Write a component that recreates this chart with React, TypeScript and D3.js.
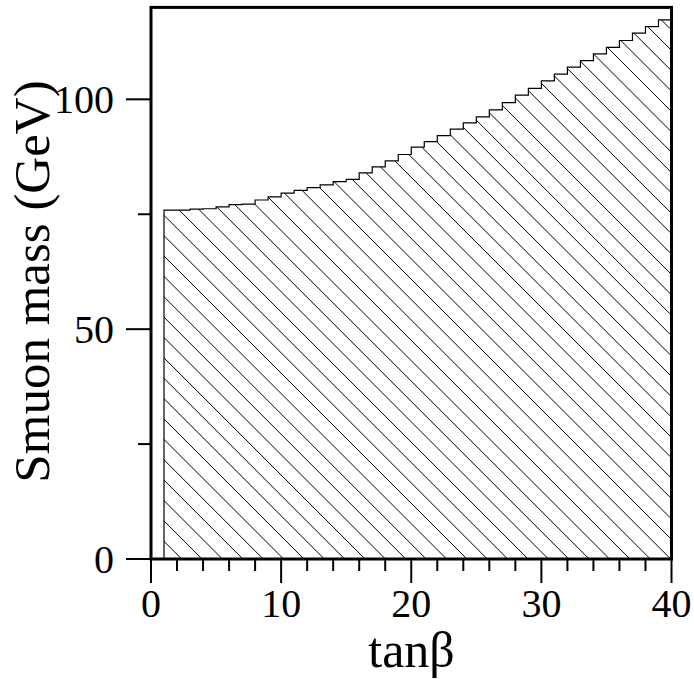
import React from "react";
import * as d3 from "d3";

// tanβ at the start of each step (step covers [k, k+1])
const tanBeta = [
  1, 2, 3, 4, 5, 6, 7, 8, 9, 10, 11, 12, 13, 14, 15, 16, 17, 18, 19, 20,
  21, 22, 23, 24, 25, 26, 27, 28, 29, 30, 31, 32, 33, 34, 35, 36, 37, 38, 39,
];
// excluded smuon mass (GeV) on each step
const smuonMass = [
  75.9, 75.9, 76.1, 76.2, 76.6, 77.1, 77.2, 78.1, 78.8, 79.6, 80.2, 80.8,
  81.4, 82.1, 82.6, 84.0, 85.3, 86.6, 88.0, 89.6, 90.8, 92.1, 93.5, 94.9,
  96.2, 97.7, 99.3, 100.9, 102.4, 104.0, 105.5, 107.0, 108.4, 109.9, 111.3,
  112.8, 114.4, 115.8, 117.3,
];
const xEnd = 40;

const xMajorTicks = [0, 10, 20, 30, 40];
const xMinorTicks = [2, 4, 6, 8, 12, 14, 16, 18, 22, 24, 26, 28, 32, 34, 36, 38];
const yMajorTicks = [0, 50, 100];
const yMinorTicks = [25, 75];

const xLabel = "tanβ";
const yLabel = "Smuon mass (GeV)";

const W = 694;
const H = 679;
const FONT = "'Liberation Serif', 'Times New Roman', Times, serif";

export default function App() {
  const x = d3.scaleLinear().domain([0, 40]).range([151, 671.5]);
  const y = d3.scaleLinear().domain([0, 120]).range([559, 7.4]);

  const pts: [number, number][] = tanBeta.map((t, i) => [t, smuonMass[i]]);
  pts.push([xEnd, smuonMass[smuonMass.length - 1]]);

  const area = d3
    .area<[number, number]>()
    .x((d) => x(d[0]))
    .y0(y(0))
    .y1((d) => y(d[1]))
    .curve(d3.curveStepAfter);

  const line = d3
    .line<[number, number]>()
    .x((d) => x(d[0]))
    .y((d) => y(d[1]))
    .curve(d3.curveStepAfter);

  const edgePath =
    `M${x(tanBeta[0])},${y(0)}L${x(tanBeta[0])},${y(smuonMass[0])}` +
    (line(pts) || "").replace(/^M[^L]*/, "");

  // hatch lines (45°, "\" direction)
  const hatchStart = 181.7;
  const hatchStep = 20.375;
  const hatch: number[] = d3.range(-5, 60).map((k) => hatchStart + k * hatchStep);

  const x0 = x(0), x1 = x(40), yb = y(0), yt = y(120);

  return (
    <svg
      width={W}
      height={H}
      style={{ position: "absolute", left: 0, top: 0, background: "#fff" }}
    >
      <defs>
        <clipPath id="areaClip">
          <path d={area(pts) || ""} />
        </clipPath>
      </defs>
      <rect x={0} y={0} width={W} height={H} fill="#fff" />

      {/* hatching */}
      <g clipPath="url(#areaClip)">
        {hatch.map((hx, i) => (
          <line
            key={i}
            x1={hx}
            y1={yb}
            x2={hx - 700}
            y2={yb - 700}
            stroke="#000"
            strokeWidth={1}
          />
        ))}
      </g>
      <path d={edgePath} fill="none" stroke="#000" strokeWidth={1.2} />

      {/* frame */}
      <rect
        x={x0}
        y={yt}
        width={x1 - x0}
        height={yb - yt}
        fill="none"
        stroke="#000"
        strokeWidth={3}
      />

      {/* x ticks */}
      {xMajorTicks.map((t) => (
        <g key={"xM" + t}>
          <line x1={x(t)} x2={x(t)} y1={yb} y2={yb + 24} stroke="#000" strokeWidth={2} />
          <text
            x={x(t)}
            y={617}
            textAnchor="middle"
            fontFamily={FONT}
            fontSize={40}
          >
            {t}
          </text>
        </g>
      ))}
      {xMinorTicks.map((t) => (
        <line key={"xm" + t} x1={x(t)} x2={x(t)} y1={yb} y2={yb + 12} stroke="#000" strokeWidth={2} />
      ))}

      {/* y ticks */}
      {yMajorTicks.map((t) => (
        <g key={"yM" + t}>
          <line x1={x0} x2={x0 - 25} y1={y(t)} y2={y(t)} stroke="#000" strokeWidth={2} />
          <text
            x={114}
            y={y(t) + 14}
            textAnchor="end"
            fontFamily={FONT}
            fontSize={40}
          >
            {t}
          </text>
        </g>
      ))}
      {yMinorTicks.map((t) => (
        <line key={"ym" + t} x1={x0} x2={x0 - 13} y1={y(t)} y2={y(t)} stroke="#000" strokeWidth={2} />
      ))}

      {/* axis labels */}
      <text
        x={411.5}
        y={667}
        textAnchor="middle"
        fontFamily={FONT}
        fontSize={50}
      >
        {xLabel}
      </text>
      <text
        transform={`translate(49,${281.5}) rotate(-90)`}
        textAnchor="middle"
        fontFamily={FONT}
        fontSize={51}
      >
        {yLabel}
      </text>
    </svg>
  );
}
